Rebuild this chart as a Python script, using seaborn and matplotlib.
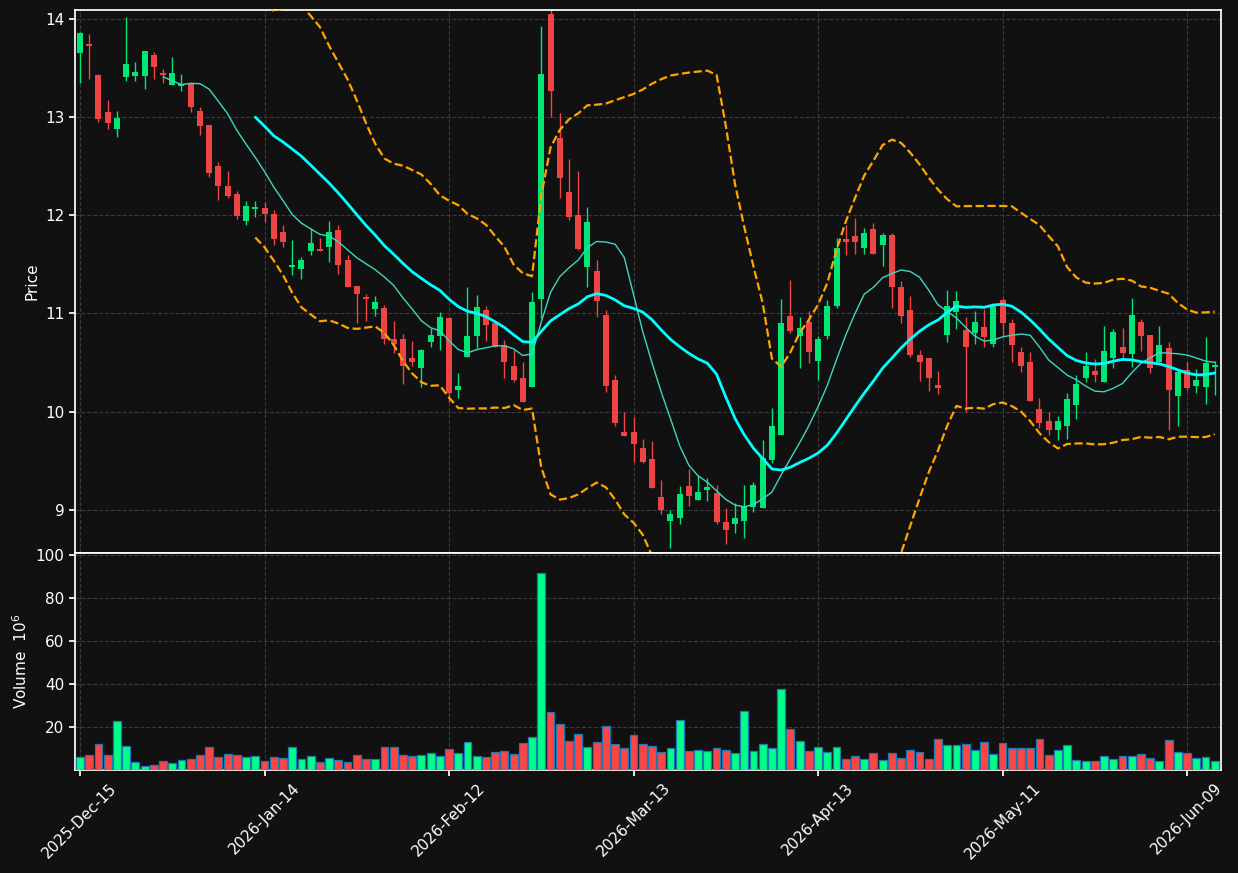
import numpy as np
import pandas as pd
import matplotlib
matplotlib.use("Agg")
import matplotlib.pyplot as plt
import seaborn as sns

opens = [13.65,13.74,13.43,13.05,12.88,13.41,13.42,13.42,13.63,13.44,13.33,13.32,13.34,13.06,12.92,12.50,12.30,12.22,11.94,12.06,
         12.07,12.01,11.83,11.47,11.45,11.64,11.66,11.68,11.85,11.54,11.28,11.17,11.04,11.06,10.74,10.74,10.55,10.44,10.71,10.77,
         10.95,10.22,10.56,10.77,11.03,10.90,10.68,10.46,10.34,10.25,11.15,14.05,12.79,12.24,12.00,11.47,11.43,10.98,10.32,9.79,
         9.79,9.63,9.52,9.13,8.89,8.92,9.24,9.10,9.20,9.17,8.88,8.85,8.89,9.03,9.02,9.51,9.76,10.97,10.77,10.91,
         10.52,10.77,11.08,11.76,11.79,11.67,11.86,11.70,11.80,11.27,11.03,10.58,10.55,10.27,10.78,11.01,10.83,10.80,10.86,10.69,
         11.14,10.90,10.61,10.50,10.03,9.90,9.81,9.85,10.07,10.34,10.41,10.30,10.55,10.66,10.59,10.91,10.78,10.50,10.65,10.16,
         10.42,10.26,10.25,10.45]
closes = [13.86,13.72,12.98,12.94,12.99,13.54,13.46,13.67,13.51,13.43,13.45,13.34,13.10,12.91,12.43,12.30,12.20,11.99,12.09,12.08,
          12.01,11.76,11.73,11.49,11.54,11.72,11.64,11.83,11.49,11.27,11.20,11.15,11.12,10.74,10.69,10.46,10.50,10.63,10.78,10.96,
          10.19,10.26,10.77,11.07,10.88,10.66,10.50,10.32,10.10,11.12,13.44,13.27,12.38,11.98,11.66,11.93,11.13,10.26,9.88,9.75,
          9.67,9.49,9.22,9.00,8.96,9.16,9.14,9.18,9.23,8.88,8.79,8.92,9.03,9.25,9.53,9.85,10.90,10.82,10.85,10.61,
          10.74,11.08,11.67,11.73,11.73,11.82,11.61,11.80,11.27,10.97,10.58,10.51,10.34,10.24,11.08,11.13,10.66,10.91,10.76,11.08,
          10.90,10.68,10.46,10.11,9.88,9.81,9.90,10.13,10.28,10.46,10.37,10.62,10.81,10.60,10.98,10.77,10.44,10.68,10.22,10.40,
          10.24,10.32,10.49,10.47]
highs = [13.87,13.85,13.44,13.17,13.06,14.02,13.56,13.67,13.66,13.49,13.61,13.44,13.36,13.10,12.92,12.54,12.45,12.25,12.14,12.15,
         12.13,12.05,11.90,11.75,11.57,11.87,11.77,11.94,11.90,11.60,11.28,11.20,11.18,11.09,10.92,10.79,10.72,10.64,10.85,11.01,
         10.96,10.39,11.27,11.19,11.08,10.90,10.73,10.63,10.50,11.22,13.93,14.10,13.04,12.57,12.45,12.08,11.54,11.03,10.37,10.00,
         9.94,9.72,9.70,9.30,9.00,9.24,9.42,9.35,9.32,9.25,9.02,9.07,9.25,9.28,9.71,10.04,11.15,11.34,10.96,11.02,
         10.77,11.14,11.77,11.90,11.97,11.87,11.92,11.82,11.82,11.33,11.18,10.63,10.55,10.41,11.24,11.23,10.96,11.02,11.04,11.08,
         11.16,10.94,10.66,10.61,10.14,10.00,9.95,10.19,10.37,10.61,10.54,10.87,10.84,10.85,11.16,10.94,10.78,10.87,10.71,10.43,
         10.51,10.43,10.76,10.52]
lows = [13.35,13.39,12.95,12.88,12.80,13.37,13.37,13.29,13.39,13.35,13.33,13.27,13.05,12.82,12.39,12.16,12.18,11.96,11.90,11.98,
        11.93,11.70,11.68,11.39,11.35,11.59,11.64,11.52,11.40,11.27,10.90,10.92,10.97,10.69,10.60,10.28,10.46,10.25,10.66,10.63,
        10.10,10.14,10.56,10.65,10.72,10.66,10.34,10.30,10.10,10.25,10.95,13.00,12.18,11.95,11.65,11.27,10.96,10.20,9.85,9.75,
        9.49,9.48,9.22,8.96,8.61,8.86,9.04,9.10,9.09,8.86,8.65,8.76,8.71,8.98,9.02,9.48,9.76,10.80,10.44,10.49,
        10.32,10.74,11.05,11.60,11.61,11.61,11.61,11.48,11.05,10.90,10.56,10.31,10.21,10.18,10.71,10.84,10.00,10.69,10.66,10.66,
        10.77,10.51,10.40,10.11,9.83,9.76,9.71,9.72,9.92,10.30,10.30,10.30,10.44,10.55,10.45,10.62,10.39,10.50,9.81,9.85,
        10.22,10.19,10.08,10.17]
volumes = [6.0,7.1,12.2,7.1,22.9,11.3,3.9,1.9,2.5,4.3,3.4,4.8,5.3,7.1,10.9,6.2,7.6,7.1,6.2,6.7,
           4.3,6.2,5.7,10.9,5.3,6.7,3.9,5.7,4.8,3.9,7.1,5.3,5.3,10.9,10.9,7.1,6.7,7.1,8.1,6.7,
           9.9,8.1,13.2,6.7,6.2,8.5,9.0,7.6,12.7,15.5,91.8,27.1,21.6,13.6,16.9,10.9,13.2,20.6,12.2,10.4,
           16.4,12.2,11.2,8.5,10.2,23.4,9.0,9.5,9.0,10.2,9.5,8.1,27.6,9.0,12.2,10.2,37.8,19.2,13.6,9.0,
           10.9,8.5,10.9,5.3,6.7,5.3,8.1,4.8,8.1,5.7,9.5,8.5,5.3,14.6,11.8,11.8,12.2,9.5,13.2,7.6,
           12.7,10.2,10.2,10.2,14.6,7.1,9.5,11.8,4.8,4.3,4.3,6.7,5.3,6.7,6.7,7.6,5.7,4.3,14.1,8.5,
           8.1,5.7,6.2,4.3]
tick_positions = [0, 20, 40, 60, 80, 100, 120]
tick_labels = ["2025-Dec-15", "2026-Jan-14", "2026-Feb-12", "2026-Mar-13",
               "2026-Apr-13", "2026-May-11", "2026-Jun-09"]

BG = "#111111"
UP, DOWN = "#00e676", "#ef4444"
VUP, VDOWN = "#00ff88", "#ff4444"

sns.set_theme(style="dark")
plt.rcParams["font.family"] = ["DejaVu Sans"]

df = pd.DataFrame({"o": opens, "c": closes, "h": highs, "l": lows, "v": volumes})
df["i"] = np.arange(len(df))
df["ma10"] = df["c"].rolling(10).mean()
df["ma20"] = df["c"].rolling(20).mean()
sd = df["c"].rolling(20).std()
df["bbu"] = df["ma20"] + 2 * sd
df["bbl"] = df["ma20"] - 2 * sd
up = df["c"] >= df["o"]

fig = plt.figure(figsize=(12.38, 8.73), dpi=100, facecolor=BG)
ax = fig.add_axes([0.0606, 0.3666, 0.9257, 0.6219])
axv = fig.add_axes([0.0606, 0.118, 0.9257, 0.2486], sharex=ax)

for a in (ax, axv):
    a.set_facecolor(BG)
    a.grid(True, color="#3a3a3a", linestyle="--", linewidth=0.8)
    for s in a.spines.values():
        s.set_color("white")
    a.tick_params(colors="white", labelsize=11, length=4, left=True, bottom=True)

cols = np.where(up, UP, DOWN)
ax.vlines(df["i"], df["l"], df["h"], colors=cols, linewidth=1, zorder=2)
body_lo = np.minimum(df["o"], df["c"])
body_h = np.maximum(np.abs(df["c"] - df["o"]), 0.015)
ax.bar(df["i"], body_h, bottom=body_lo, width=0.65, color=cols, linewidth=0, zorder=3)

sns.lineplot(data=df, x="i", y="ma10", ax=ax, color="#3fd6c0", linewidth=1, zorder=4)
sns.lineplot(data=df, x="i", y="ma20", ax=ax, color="#00ffff", linewidth=2, zorder=4)
sns.lineplot(data=df, x="i", y="bbu", ax=ax, color="#ffa500", linewidth=1.6, linestyle="--", zorder=4)
sns.lineplot(data=df, x="i", y="bbl", ax=ax, color="#ffa500", linewidth=1.6, linestyle="--", zorder=4)

ax.set_ylim(8.56, 14.09)
ax.set_xlim(-0.54, 123.68)
ax.set_ylabel("Price", color="white", fontsize=11)
ax.set_xlabel("")
plt.setp(ax.get_xticklabels(), visible=False)

vcols = np.where(up, VUP, VDOWN)
axv.bar(df["i"], df["v"], width=0.85, color=vcols, edgecolor="#1f77b4", linewidth=0.9, zorder=3)
axv.set_ylim(0, 101)
axv.set_yticks([20, 40, 60, 80, 100])
axv.set_ylabel("Volume  $10^{6}$", color="white", fontsize=11)
axv.set_xticks(tick_positions)
axv.set_xticklabels(tick_labels, rotation=45, ha="center")
axv.set_xlabel("")

fig.savefig("out.png", dpi=100, facecolor=BG)
